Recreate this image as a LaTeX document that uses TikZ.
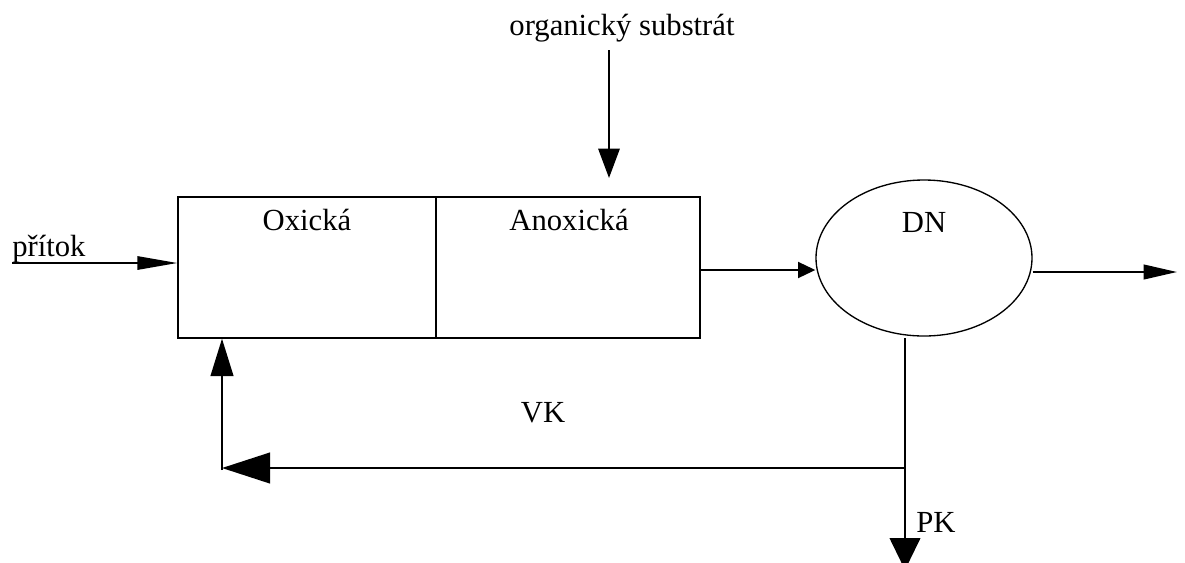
\documentclass[tikz,border=0pt]{standalone}
\usepackage{fontspec}
\setmainfont{Liberation Serif}
\usetikzlibrary{arrows.meta,shapes.geometric}
\begin{document}
\begin{tikzpicture}[x=0.75pt,y=-0.75pt,
  every node/.style={font=\fontsize{23}{27}\selectfont},
  tank/.style={draw,line width=1pt,minimum height=105.75pt,inner sep=0pt},
  flow/.style={line width=1.5pt},
  txt/.style={inner sep=0pt}]
\useasboundingbox (0,0) rectangle (1185,562);

% reactor tanks and settling tank
\node[tank,minimum width=193.5pt] (ox) at (307,267.5) {};
\node[tank,minimum width=198pt] (anox) at (568,267.5) {};
\node[draw,ellipse,line width=1pt,minimum width=162pt,minimum height=117pt,inner sep=0pt] (dn) at (924,258) {};

% labels
\node[txt,anchor=base] (lox) at (307,230) {Oxická};
\node[txt,anchor=base] (lanox) at (569,230) {Anoxická};
\node[txt,anchor=base] (ldn) at (924,232) {DN};
\node[txt,anchor=base west] (lin) at (12,256) {přítok};
\node[txt,anchor=base] (lsub) at (622,35) {organický substrát};
\node[txt,anchor=base] (lvk) at (543,422) {VK};
\node[txt,anchor=base west] (lpk) at (916,532) {PK};

% free ends of the flows
\coordinate (pin) at (12,263);
\coordinate (subtop) at (609,50);
\coordinate (subend) at (609,178);
\coordinate (pout) at (1177,272);
\coordinate (split) at (905,468);
\coordinate (pkend) at (905,570);
\coordinate (ret) at (222,470);

% flows
\draw[flow,-{Triangle[length=30pt,width=10pt]}] (pin) -- (pin -| ox.west);
\draw[flow,-{Triangle[length=22pt,width=16pt]}] (subtop) -- (subend);
\draw[flow,-{Triangle[length=13pt,width=12pt]}] (anox.east |- 0,270) -- (dn.west |- 0,270);
\draw[flow,-{Triangle[length=25pt,width=11pt]}] (dn.east |- 0,272) -- (pout);
\draw[flow,-{Triangle[length=24pt,width=23pt]}] (905,338) -- (pkend);
\draw[flow,-{Triangle[length=36pt,width=23pt]}] (split) -- (split -| ret);
\draw[flow,-{Triangle[length=28pt,width=17pt]}] (ret) -- (ret |- ox.south);
\end{tikzpicture}
\end{document}
